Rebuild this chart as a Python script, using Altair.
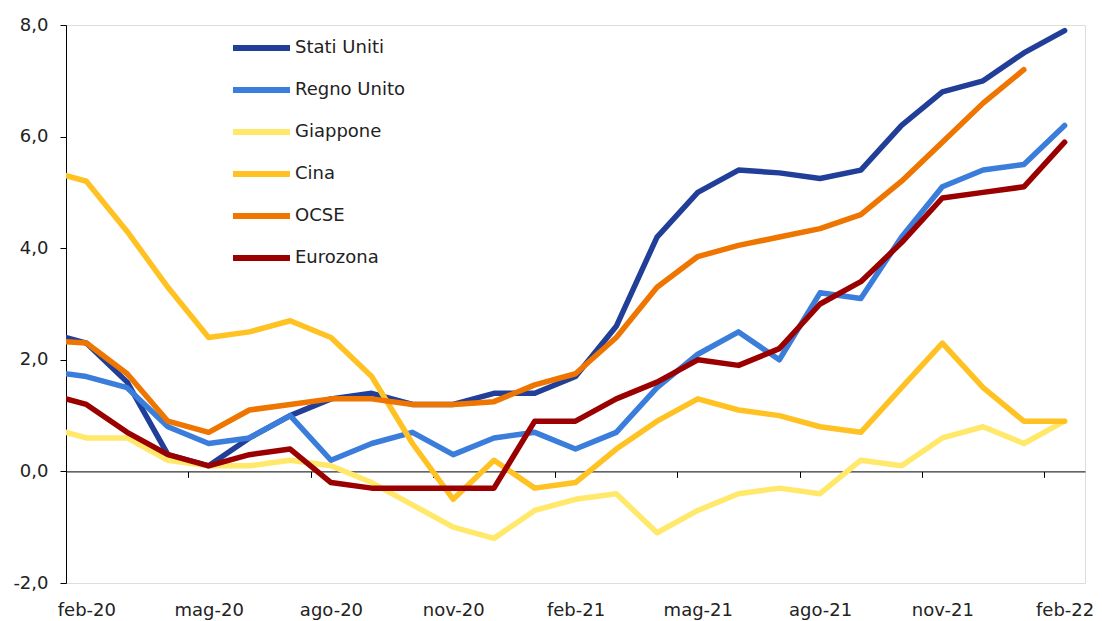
import altair as alt
import pandas as pd

# month index: -1 = gen-20 (clipped at the axis), 0 = feb-20 ... 24 = feb-22
month_index = list(range(-1, 25))
tick_values = [0, 3, 6, 9, 12, 15, 18, 21, 24]
tick_labels = ["feb-20", "mag-20", "ago-20", "nov-20", "feb-21", "mag-21", "ago-21", "nov-21", "feb-22"]
y_ticks = [-2, 0, 2, 4, 6, 8]

series_names = ["Stati Uniti", "Regno Unito", "Giappone", "Cina", "OCSE", "Eurozona"]
series_colors = ["#213E98", "#3A7DDB", "#FFE86A", "#FFC222", "#EE7500", "#9A0000"]

stati_uniti = [2.5, 2.3, 1.6, 0.3, 0.1, 0.6, 1.0, 1.3, 1.4, 1.2, 1.2, 1.4, 1.4, 1.7, 2.6, 4.2,
               5.0, 5.4, 5.35, 5.25, 5.4, 6.2, 6.8, 7.0, 7.5, 7.9]
regno_unito = [1.8, 1.7, 1.5, 0.8, 0.5, 0.6, 1.0, 0.2, 0.5, 0.7, 0.3, 0.6, 0.7, 0.4, 0.7, 1.5,
               2.1, 2.5, 2.0, 3.2, 3.1, 4.2, 5.1, 5.4, 5.5, 6.2]
giappone = [0.8, 0.6, 0.6, 0.2, 0.1, 0.1, 0.2, 0.1, -0.2, -0.6, -1.0, -1.2, -0.7, -0.5, -0.4, -1.1,
            -0.7, -0.4, -0.3, -0.4, 0.2, 0.1, 0.6, 0.8, 0.5, 0.9]
cina = [5.4, 5.2, 4.3, 3.3, 2.4, 2.5, 2.7, 2.4, 1.7, 0.5, -0.5, 0.2, -0.3, -0.2, 0.4, 0.9,
        1.3, 1.1, 1.0, 0.8, 0.7, 1.5, 2.3, 1.5, 0.9, 0.9]
ocse = [2.35, 2.3, 1.75, 0.9, 0.7, 1.1, 1.2, 1.3, 1.3, 1.2, 1.2, 1.25, 1.55, 1.75, 2.4, 3.3,
        3.85, 4.05, 4.2, 4.35, 4.6, 5.2, 5.9, 6.6, 7.2, None]
eurozona = [1.4, 1.2, 0.7, 0.3, 0.1, 0.3, 0.4, -0.2, -0.3, -0.3, -0.3, -0.3, 0.9, 0.9, 1.3, 1.6,
            2.0, 1.9, 2.2, 3.0, 3.4, 4.1, 4.9, 5.0, 5.1, 5.9]

all_values = [stati_uniti, regno_unito, giappone, cina, ocse, eurozona]

rows = []
for name, vals in zip(series_names, all_values):
    for m, v in zip(month_index, vals):
        if v is not None:
            rows.append({"serie": name, "mese": m, "valore": v})
df = pd.DataFrame(rows)

FONT = "DejaVu Sans"
TXT = "#222222"
W, H = 1019, 558
zero_offset = -H * 2 / 10  # move x axis line up to value 0
half_cat = W / 25 / 2

label_expr = "[" + ",".join("'%s'" % t for t in tick_labels) + "][datum.value / 3]"

x_enc = alt.X(
    "mese:Q",
    scale=alt.Scale(domain=[-0.5, 24.5], nice=False, zero=False),
    axis=alt.Axis(
        values=tick_values, labelExpr=label_expr, title=None, grid=False,
        offset=zero_offset, tickSize=6, tickOffset=-half_cat, labelOffset=half_cat,
        labelPadding=124, labelFlush=False, labelOverlap=False,
        domainColor="#000000", tickColor="#000000", domainWidth=1, tickWidth=1,
        labelFont=FONT, labelFontSize=18, labelColor=TXT,
    ),
)
y_enc = alt.Y(
    "valore:Q",
    scale=alt.Scale(domain=[-2, 8], nice=False, zero=False),
    axis=alt.Axis(
        values=y_ticks,
        labelExpr="replace(replace(format(datum.value, '.1f'), '.', ','), '\u2212', '-')",
        title=None, grid=False, tickSize=6, labelPadding=12,
        domainColor="#000000", tickColor="#000000", domainWidth=1, tickWidth=1,
        labelFont=FONT, labelFontSize=18, labelColor=TXT,
    ),
)
color_enc = alt.Color(
    "serie:N",
    scale=alt.Scale(domain=series_names, range=series_colors),
    sort=series_names,
    legend=alt.Legend(
        title=None, orient="none", legendX=167, legendY=5.5,
        symbolType="M-2,0L2,0", symbolSize=812, symbolStrokeWidth=6,
        labelFont=FONT, labelFontSize=18, labelColor=TXT, labelOffset=16,
        rowPadding=12, padding=0, symbolOffset=11,
    ),
)

layers = []
for name in series_names:
    layers.append(
        alt.Chart(df)
        .transform_filter(alt.datum.serie == name)
        .mark_line(clip=True, strokeWidth=5.5, strokeCap="round", strokeJoin="round")
        .encode(x=x_enc, y=y_enc, color=color_enc)
    )

chart = (
    alt.layer(*layers)
    .properties(
        width=W, height=H,
        autosize=alt.AutoSizeParams(type="none"),
        padding={"left": 58, "top": 17, "right": 9, "bottom": 38},
    )
    .configure_view(stroke=None)
    .configure(background="white")
)

chart.save("out.html", embed_options={"renderer": "svg", "actions": False})
